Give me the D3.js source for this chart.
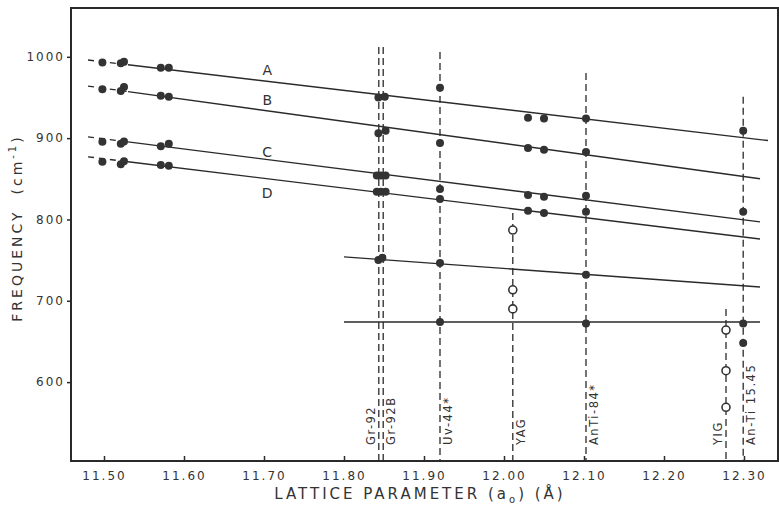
<!DOCTYPE html>
<html>
<head>
<meta charset="utf-8">
<script src="https://cdn.jsdelivr.net/npm/d3@7"></script>
<style>
  body { margin: 0; background: #fff; }
  svg text { font-family: "DejaVu Sans", sans-serif; fill: #333; }
</style>
</head>
<body>
<script>
// lattice parameter values (Å) and frequencies (cm-1)
var xTicks = [11.50, 11.60, 11.70, 11.80, 11.90, 12.00, 12.10, 12.20, 12.30];
var yTicks = [600, 700, 800, 900, 1000];

// fitted trend lines: [x0, f0, x1, f1, dashedUntil]
var lineNames = ['A', 'B', 'C', 'D', '', ''];
var lineFits = [
  [11.48, 996, 12.33, 897, 11.53],
  [11.48, 964, 12.32, 850, 11.53],
  [11.48, 901.6, 12.32, 797, 11.53],
  [11.48, 877, 12.32, 776, 11.53],
  [11.80, 754, 12.32, 717, null],
  [11.80, 674, 12.32, 674, null]
];
var lineLabelY = [978, 941, 877, 826.6];

// filled points [x, f]
var solidPts = [
  [11.498, 993], [11.521, 992], [11.525, 994], [11.571, 986.5], [11.581, 986.5],
  [11.498, 960], [11.521, 958], [11.525, 963], [11.571, 952], [11.581, 951],
  [11.498, 895.5], [11.521, 893], [11.525, 896], [11.571, 890], [11.581, 893],
  [11.498, 871], [11.521, 868], [11.525, 871.5], [11.571, 867], [11.581, 866],
  [11.843, 950], [11.851, 951], [11.843, 906], [11.852, 909],
  [11.841, 854], [11.846, 854], [11.852, 854],
  [11.841, 834], [11.846, 834], [11.852, 834],
  [11.843, 750], [11.848, 753],
  [11.920, 962], [11.920, 894], [11.920, 837.5], [11.920, 825], [11.920, 746.5], [11.920, 674],
  [12.030, 925], [12.050, 924], [12.030, 888], [12.050, 885.6],
  [12.030, 830], [12.050, 828], [12.030, 810.6], [12.050, 808],
  [12.1025, 924], [12.1025, 883], [12.1025, 829], [12.1025, 809.6], [12.1025, 732], [12.1025, 672],
  [12.299, 909], [12.299, 809.6], [12.299, 672], [12.299, 648]
];

// open points [x, f]
var openPts = [
  [12.011, 787], [12.011, 713.5], [12.011, 690],
  [12.2775, 664], [12.2775, 614], [12.2775, 569]
];

// sample reference lines: name, x, top frequency, label side
var sampleNames = ['Gr-92', 'Gr-92B', 'Uv-44*', 'YAG', 'AnTi-84*', 'YIG', 'An-Ti 15.45'];
var sampleX = [11.8435, 11.849, 11.920, 12.011, 12.1025, 12.2775, 12.299];
var sampleTop = [1012, 1012, 1006, 808, 980, 690, 951];
var sampleSide = [-1, 1, 1, 1, 1, -1, 1];

var svg = d3.select('body').append('svg')
  .attr('width', 779)
  .attr('height', 506);

var x = d3.scaleLinear().domain([11.45875, 12.3425]).range([71, 778]);
var y = d3.scaleLinear().domain([503, 1060]).range([461, 8]);

var ink = '#2a2a2a';

// frame
svg.append('rect')
  .attr('x', 71).attr('y', 8)
  .attr('width', 707).attr('height', 453)
  .attr('fill', 'none')
  .attr('stroke', ink)
  .attr('stroke-width', 2);

// x axis ticks (inside) and labels
var xAxis = d3.axisBottom(x)
  .tickValues(xTicks)
  .tickSize(-5)
  .tickFormat(d3.format('.2f'));
var gx = svg.append('g').attr('transform', 'translate(0,461)').call(xAxis);
gx.select('.domain').remove();
gx.selectAll('.tick line').attr('stroke', ink).attr('stroke-width', 1.5);
gx.selectAll('.tick text')
  .attr('y', 10)
  .attr('font-size', 12)
  .attr('letter-spacing', 2)
  .attr('fill', ink)
  .style('font-family', '"DejaVu Sans", sans-serif');

// y axis ticks (outside) and labels
var yAxis = d3.axisLeft(y)
  .tickValues(yTicks)
  .tickSize(4)
  .tickFormat(d3.format('d'));
var gy = svg.append('g').attr('transform', 'translate(71,0)').call(yAxis);
gy.select('.domain').remove();
gy.selectAll('.tick line').attr('stroke', ink).attr('stroke-width', 1.5);
gy.selectAll('.tick text')
  .attr('x', -6)
  .attr('font-size', 12)
  .attr('letter-spacing', 2)
  .attr('fill', ink)
  .style('font-family', '"DejaVu Sans", sans-serif');

// axis titles
svg.append('text')
  .attr('transform', 'translate(22,228) rotate(-90)')
  .attr('text-anchor', 'middle')
  .attr('font-size', 14)
  .attr('letter-spacing', 3)
  .html('FREQUENCY &#160;(cm<tspan dy="-6" font-size="10">-1</tspan><tspan dy="6">)</tspan>');

svg.append('text')
  .attr('x', 420).attr('y', 499)
  .attr('text-anchor', 'middle')
  .attr('font-size', 15)
  .attr('letter-spacing', 3)
  .html('LATTICE PARAMETER (a<tspan dy="4" font-size="10">o</tspan><tspan dy="-4">) (Å)</tspan>');

// sample reference lines (dashed verticals)
svg.append('g').selectAll('line')
  .data(sampleX)
  .enter()
  .append('line')
  .attr('x1', function(d) { return x(d); })
  .attr('x2', function(d) { return x(d); })
  .attr('y1', function(d, i) { return y(sampleTop[i]); })
  .attr('y2', 460)
  .attr('stroke', ink)
  .attr('stroke-width', 1.3)
  .attr('stroke-dasharray', '7,4');

svg.append('g').selectAll('text')
  .data(sampleNames)
  .enter()
  .append('text')
  .attr('transform', function(d, i) {
    var px = x(sampleX[i]) + (sampleSide[i] < 0 ? -4 : 12);
    return 'translate(' + px + ',445) rotate(-90)';
  })
  .attr('font-size', 11.5)
  .attr('letter-spacing', 1.5)
  .text(function(d) { return d; });

// trend lines: dashed part at the left, solid for the rest
var gl = svg.append('g');
lineFits.forEach(function(l) {
  var slope = (l[3] - l[1]) / (l[2] - l[0]);
  var xs = l[0];
  if (l[4] !== null) {
    var fm = l[1] + slope * (l[4] - l[0]);
    gl.append('line')
      .attr('x1', x(l[0])).attr('y1', y(l[1]))
      .attr('x2', x(l[4])).attr('y2', y(fm))
      .attr('stroke', ink).attr('stroke-width', 1.4)
      .attr('stroke-dasharray', '6,5');
    xs = l[4];
  }
  gl.append('line')
    .attr('x1', x(xs)).attr('y1', y(l[1] + slope * (xs - l[0])))
    .attr('x2', x(l[2])).attr('y2', y(l[3]))
    .attr('stroke', ink).attr('stroke-width', 1.4);
});

svg.append('g').selectAll('text')
  .data(lineLabelY)
  .enter()
  .append('text')
  .attr('x', x(11.704))
  .attr('y', function(d) { return y(d); })
  .attr('text-anchor', 'middle')
  .attr('font-size', 14)
  .text(function(d, i) { return lineNames[i]; });

// points
svg.append('g').selectAll('circle')
  .data(solidPts)
  .enter()
  .append('circle')
  .attr('cx', function(d) { return x(d[0]); })
  .attr('cy', function(d) { return y(d[1]); })
  .attr('r', 4)
  .attr('fill', '#333');

svg.append('g').selectAll('circle')
  .data(openPts)
  .enter()
  .append('circle')
  .attr('cx', function(d) { return x(d[0]); })
  .attr('cy', function(d) { return y(d[1]); })
  .attr('r', 4)
  .attr('fill', '#fff')
  .attr('stroke', '#333')
  .attr('stroke-width', 1.6);
</script>
</body>
</html>
